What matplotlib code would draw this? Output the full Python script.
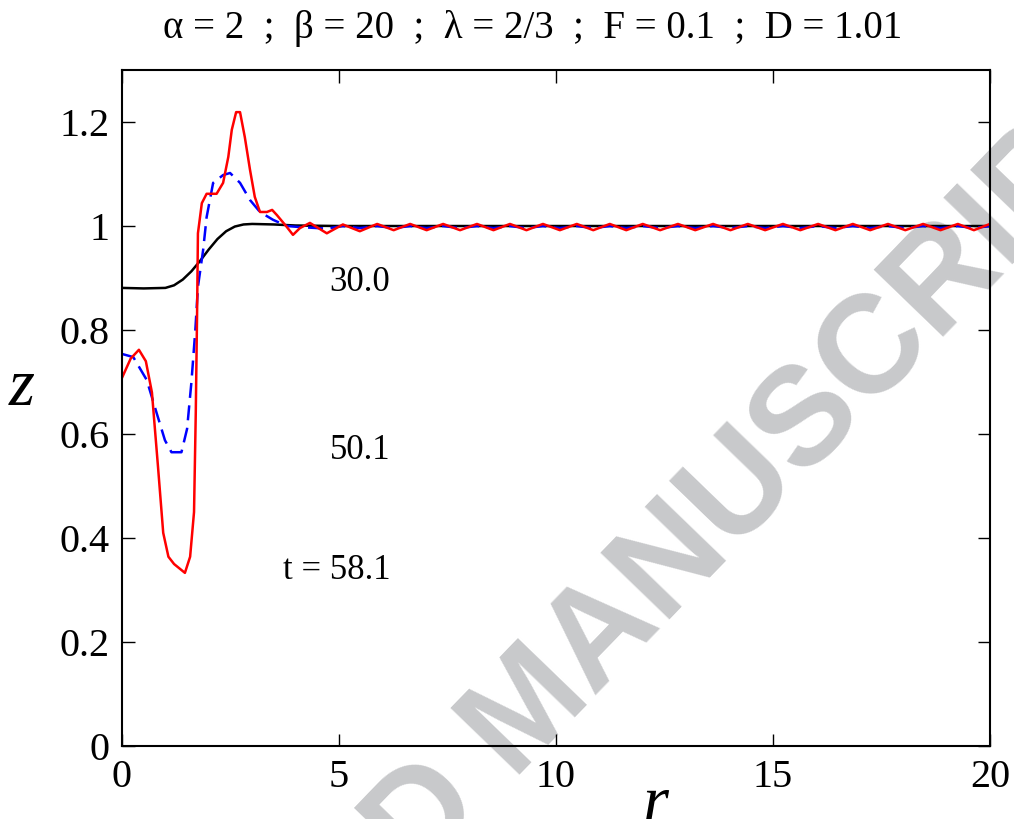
import matplotlib
matplotlib.use("Agg")
import matplotlib.pyplot as plt

# --- values -------------------------------------------------------------

# t = 30.0 (black, solid)
r_30 = [0, 0.5, 1.0, 1.2, 1.4, 1.6, 1.8, 2.0, 2.2, 2.4, 2.6, 2.8, 3.0,
        3.5, 4.0, 5.0, 20.0]
z_30 = [0.881, 0.880, 0.881, 0.886, 0.897, 0.913, 0.933, 0.955, 0.975,
        0.990, 0.999, 1.003, 1.004, 1.003, 1.001, 1.000, 1.000]

# t = 50.1 (blue, dashed)
r_50 = [0, 0.26, 0.57, 0.8, 0.99, 1.14, 1.37, 1.5, 1.6, 1.69, 1.75, 1.87,
        1.95, 2.1, 2.33, 2.49, 2.72, 2.95, 3.18, 3.48, 3.8,
        4.1, 4.72, 5.09, 5.48, 5.88, 6.26, 6.64, 7.02, 7.40, 7.79, 8.18,
        8.56, 8.94, 9.32, 9.70, 10.09, 10.48, 10.86, 11.24, 11.62, 12.00,
        12.40, 12.81, 13.21, 13.62, 14.02, 14.42, 14.82, 15.23, 15.63,
        16.04, 16.44, 16.84, 17.24, 17.65, 18.05, 18.46, 18.86, 19.26,
        19.63, 20.0]
z_50 = [0.754, 0.748, 0.704, 0.640, 0.588, 0.565, 0.565, 0.610, 0.700,
        0.800, 0.883, 0.954, 1.017, 1.083, 1.098, 1.102, 1.083, 1.050,
        1.027, 1.012, 1.000,
        0.998, 0.995, 1.000, 0.996, 1.000, 0.996, 1.000, 0.996, 1.000,
        0.996, 1.000, 0.996, 1.000, 0.996, 1.000, 0.996, 1.000, 0.996,
        1.000, 0.996, 1.000, 0.996, 1.000, 0.996, 1.000, 0.996, 1.000,
        0.996, 1.000, 0.996, 1.000, 0.996, 1.000, 0.996, 1.000, 0.996,
        1.000, 0.996, 1.000, 0.996, 1.000]

# t = 58.1 (red, solid)
r_58 = [0, 0.2, 0.39, 0.55, 0.69, 0.83, 0.95, 1.07, 1.2, 1.45, 1.57, 1.66,
        1.70, 1.73, 1.75, 1.84, 1.95, 2.18, 2.33, 2.45, 2.53, 2.63, 2.72,
        2.83, 2.95, 3.06, 3.18, 3.34, 3.46, 3.57, 3.80, 3.94, 4.10,
        4.33, 4.72, 5.09, 5.48, 5.88, 6.26, 6.64, 7.02, 7.40, 7.79, 8.18,
        8.56, 8.94, 9.32, 9.70, 10.09, 10.48, 10.86, 11.24, 11.62, 12.00,
        12.40, 12.81, 13.21, 13.62, 14.02, 14.42, 14.82, 15.23, 15.63,
        16.04, 16.44, 16.84, 17.24, 17.65, 18.05, 18.46, 18.86, 19.26,
        19.63, 20.0]
z_58 = [0.708, 0.745, 0.762, 0.740, 0.680, 0.537, 0.410, 0.364, 0.350,
        0.333, 0.364, 0.450, 0.640, 0.830, 0.986, 1.044, 1.062, 1.062,
        1.083, 1.133, 1.185, 1.219, 1.219, 1.171, 1.108, 1.056, 1.027,
        1.027, 1.031, 1.021, 0.998, 0.983, 0.996,
        1.006, 0.986, 1.003, 0.990, 1.004, 0.992, 1.004, 0.992, 1.004,
        0.992, 1.004, 0.992, 1.004, 0.992, 1.004, 0.992, 1.004, 0.992,
        1.004, 0.992, 1.004, 0.992, 1.004, 0.992, 1.004, 0.992, 1.004,
        0.992, 1.004, 0.992, 1.004, 0.992, 1.004, 0.992, 1.004, 0.992,
        1.004, 0.992, 1.004, 0.992, 1.004]

curve_labels = ["30.0", "50.1", "t = 58.1"]
label_r = 6.18
label_z = [0.892, 0.569, 0.338]

x_ticks = [0, 5, 10, 15, 20]
y_ticks = [0, 0.2, 0.4, 0.6, 0.8, 1, 1.2]
y_tick_labels = ["0", "0.2", "0.4", "0.6", "0.8", "1", "1.2"]

title = "\u03b1 = 2  ;  \u03b2 = 20  ;  \u03bb = 2/3  ;  F = 0.1  ;  D = 1.01"

# --- figure ---------------------------------------------------------------

plt.rcParams["font.family"] = ["Liberation Serif", "DejaVu Serif"]

fig = plt.figure(figsize=(10.14, 8.19), dpi=100)
ax = fig.add_axes([0.1203, 0.0891, 0.856, 0.8254])
ax.patch.set_alpha(0)

# journal watermark, behind everything
fig.text(0.523, 0.131, "ACCEPTED MANUSCRIPT", rotation=46, color="#c8c9cb",
         fontsize=100, fontweight="bold", family="Liberation Sans",
         ha="center", va="center", zorder=-5)

ax.plot(r_30, z_30, color="black", linewidth=1.8)
ax.plot(r_50, z_50, color="blue", linewidth=1.8, dashes=(6, 3))
ax.plot(r_58, z_58, color="red", linewidth=1.8)

for txt, zz in zip(curve_labels, label_z):
    ax.text(label_r, zz, txt, ha="right", va="center", fontsize=25)

ax.set_xlim(0, 20)
ax.set_ylim(0, 1.3)
ax.set_xticks(x_ticks)
ax.set_yticks(y_ticks)
ax.set_yticklabels(y_tick_labels)
ax.tick_params(direction="in", length=9, width=1, top=True, right=True,
               labelsize=29, pad=9)
for sp in ax.spines.values():
    sp.set_linewidth(1.5)

fig.text(0.525, 0.965, title, ha="center", va="center", fontsize=28)
fig.text(22 / 1014, 1 - 405 / 819, "z", style="italic", fontsize=48,
         ha="center", va="baseline")
fig.text(655 / 1014, -0.004, "r", style="italic", fontsize=48,
         ha="center", va="baseline")

fig.savefig("out.png", dpi=100)
